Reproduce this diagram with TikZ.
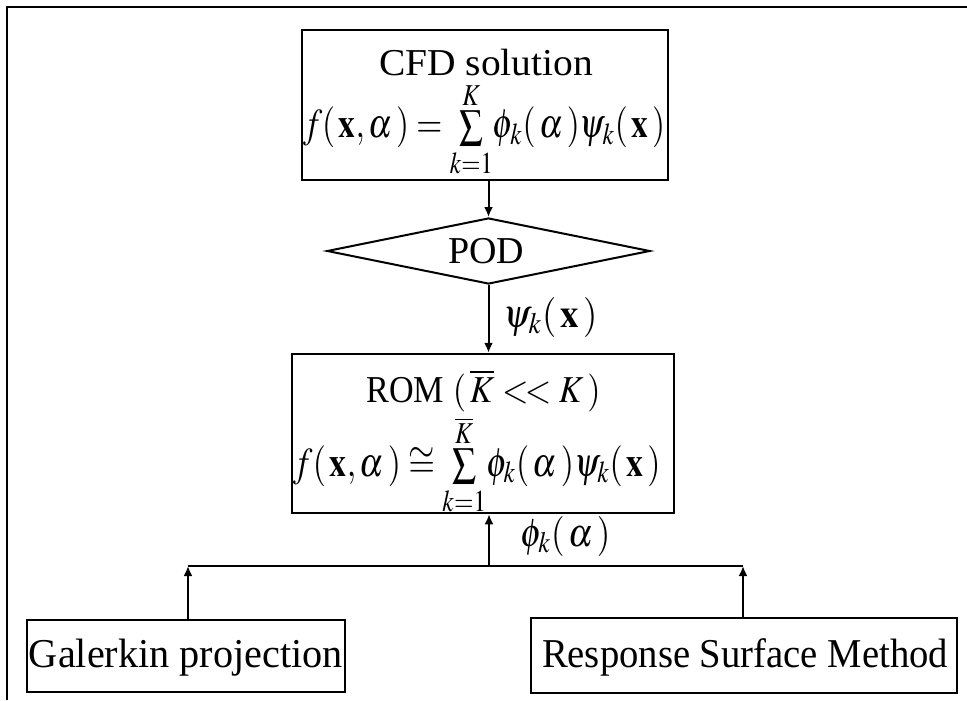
\documentclass[tikz,border=0pt]{standalone}
\usepackage{mathptmx}
\usepackage{fontspec}
\setmainfont{Liberation Serif}
\usetikzlibrary{shapes.geometric,arrows.meta}
\newcommand{\fitw}[2]{\resizebox{#1}{\height}{#2}}
\newcommand{\mysum}[1]{\sum\limits_{k=1}^{\raisebox{-2pt}{$\scriptstyle #1$}}}
\tikzset{
  boxnode/.style={draw,line width=1.25pt,inner sep=0pt},
  txt/.style={inner sep=0pt,anchor=base,font=\fontsize{19}{23}\selectfont},
  mtxt/.style={inner sep=0pt,anchor=base,font=\fontsize{20.5}{24}\selectfont},
  podnode/.style={draw,diamond,line width=1pt,inner sep=0pt,aspect=4.9},
  arr/.style={line width=1pt,-{Latex[length=5pt,width=4.5pt]}},
  lbl/.style={font=\fontsize{20}{24}\selectfont,anchor=base west,inner sep=0pt}
}
\begin{document}
\begin{tikzpicture}[x=0.5pt,y=-0.5pt]
\useasboundingbox (0,0) rectangle (967,700);
\draw[line width=1pt] (7,700) -- (7,7) -- (967,7);
% boxes
\node[boxnode,minimum width=183pt,minimum height=75pt] (cfd) at (485,105) {};
\node[txt] (cfdt) at (486,76) {\fitw{107pt}{CFD solution}};
\node[mtxt] (cfdf) at (484,138) {\fitw{181pt}{$f(\,\mathbf{x},\alpha\,)=\mysum{K}\!\phi_k(\,\alpha\,)\psi_k(\,\mathbf{x}\,)$}};
\node[podnode,minimum width=161.5pt,minimum height=33pt] (pod) at (488.5,251) {};
\node[txt] (podt) at (486,263) {\fitw{38pt}{POD}};
\node[boxnode,minimum width=191pt,minimum height=79.5pt] (rom) at (483,433.5) {};
\node[txt] (romt) at (483.5,402) {\fitw{117pt}{ROM $(\,\overline{K}\mathrel{<\!<}K\,)$}};
\node[mtxt] (romf) at (477,476) {\fitw{183.5pt}{$f(\,\mathbf{x},\alpha\,)\cong\mysum{\overline{K}}\!\phi_k(\,\alpha\,)\psi_k(\,\mathbf{x}\,)$}};
\node[boxnode,minimum width=159pt,minimum height=36pt] (gal) at (186,656) {};
\node[txt,font=\fontsize{20.5}{24}\selectfont] (galt) at (186,667) {\fitw{157pt}{Galerkin projection}};
\node[boxnode,minimum width=213pt,minimum height=37.5pt] (rsm) at (744,655.5) {};
\node[txt,font=\fontsize{20.5}{24}\selectfont] (rsmt) at (745,667) {\fitw{203pt}{Response Surface Method}};
% connectors
\coordinate (j) at (489,566);
\coordinate (jl) at (188,566);
\coordinate (jr) at (743,566);
\draw[arr] (cfd.south -| pod.north) -- (pod.north);
\draw[arr] (pod.south) -- (pod.south |- rom.north);
\node[lbl] (psil) at (503,327) {\fitw{47pt}{$\psi_k(\,\mathbf{x}\,)$}};
\draw[arr] (j) -- (j |- rom.south);
\node[lbl] (phil) at (520,546) {\fitw{45pt}{$\phi_k(\,\alpha\,)$}};
\draw[line width=0.6pt] (jl) -- (jr);
\draw[arr] (gal.north -| jl) -- (jl);
\draw[arr] (rsm.north -| jr) -- (jr);
\end{tikzpicture}
\end{document}
